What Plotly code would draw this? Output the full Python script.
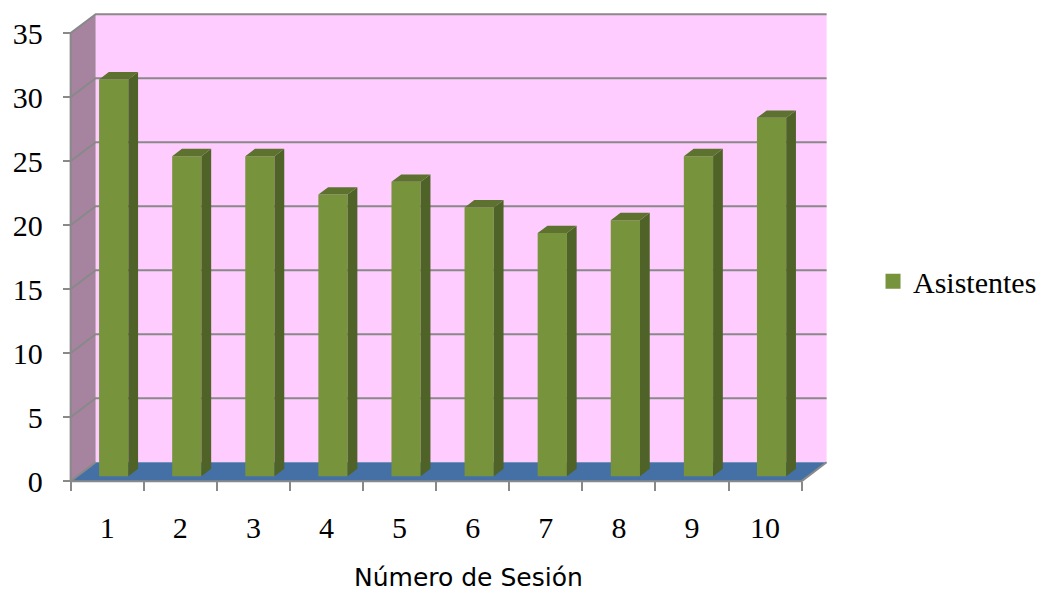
import plotly.graph_objects as go

# ---- data ----
sessions = [1, 2, 3, 4, 5, 6, 7, 8, 9, 10]
asistentes = [31, 25, 25, 22, 23, 21, 19, 20, 25, 28]
x_tick_labels = ["1", "2", "3", "4", "5", "6", "7", "8", "9", "10"]
y_tick_values = [0, 5, 10, 15, 20, 25, 30, 35]
series_name = "Asistentes"
x_title = "Número de Sesión"

# ---- styling / pseudo-3D geometry ----
W, H = 1041, 592
YMAX = 35
DX, DY = 0.342, 1.48          # depth offset (data units)
BAR_F, BAR_G = 0.26, 0.39     # bar plane position / bar depth as fraction of depth
BAR_W = 0.40
XL, XR = 0.5, 10.5            # front category edges
PXX, PXY = 73.1, 12.8         # px per unit
X0PX, Y0PX = 71, 481          # pixel of (0.5, 0)
XRANGE = [0.45, XR + DX + 0.06]
YRANGE = [-0.3, YMAX + DY + 0.25]

left = X0PX - (XL - XRANGE[0]) * PXX
right_px = X0PX + (XRANGE[1] - XL) * PXX
bottom_px = Y0PX + (0 - YRANGE[0]) * PXY
top_px = Y0PX - (YRANGE[1] - 0) * PXY

FRONT = "#77933C"
SIDE = "#4F6228"
TOP = "#5C722E"
GRID = "#898989"
PINK = "#FFCCFF"
MAUVE = "#A6849F"
FLOOR = "#4470A6"
SERIF = "Liberation Serif, Times New Roman, serif"

fig = go.Figure()

bx, by = BAR_F * DX, BAR_F * DY
ddx, ddy = BAR_G * DX, BAR_G * DY

fig.add_trace(go.Bar(
    x=[s + bx for s in sessions], y=asistentes, base=by, width=BAR_W,
    marker=dict(color=FRONT, line=dict(width=0)), name=series_name,
    showlegend=False, hoverinfo="skip"))

for s, v in zip(sessions, asistentes):
    xl = s + bx - BAR_W / 2
    xr = s + bx + BAR_W / 2
    yb, yt = by, by + v
    fig.add_trace(go.Scatter(
        x=[xr, xr + ddx, xr + ddx, xr, xr], y=[yb, yb + ddy, yt + ddy, yt, yb],
        fill="toself", fillcolor=SIDE, mode="lines", line=dict(width=0),
        showlegend=False, hoverinfo="skip"))
    fig.add_trace(go.Scatter(
        x=[xl, xr, xr + ddx, xl + ddx, xl], y=[yt, yt, yt + ddy, yt + ddy, yt],
        fill="toself", fillcolor=TOP, mode="lines", line=dict(width=0),
        showlegend=False, hoverinfo="skip"))

# legend entry (square swatch)
fig.add_trace(go.Scatter(
    x=[None], y=[None], mode="markers", name=series_name,
    marker=dict(symbol="square", size=15, color=FRONT), showlegend=True))

shapes = []
shapes.append(dict(type="rect", xref="x", yref="y", x0=XL + DX, x1=XR + DX, y0=DY, y1=YMAX + DY,
                   fillcolor=PINK, line=dict(width=0), layer="below"))
shapes.append(dict(type="path", xref="x", yref="y",
                   path=f"M {XL} 0 L {XL} {YMAX} L {XL+DX} {YMAX+DY} L {XL+DX} {DY} Z",
                   fillcolor=MAUVE, line=dict(width=0), layer="below"))
shapes.append(dict(type="path", xref="x", yref="y",
                   path=f"M {XL} 0 L {XR} 0 L {XR+DX} {DY} L {XL+DX} {DY} Z",
                   fillcolor=FLOOR, line=dict(width=0), layer="below"))
for k in y_tick_values:
    if k == 0:
        p = f"M {XL} 0 L {XL+DX} {DY}"
    else:
        p = f"M {XL} {k} L {XL+DX} {k+DY} L {XR+DX} {k+DY}"
    shapes.append(dict(type="path", xref="x", yref="y", path=p,
                       line=dict(color=GRID, width=2), layer="below"))
shapes.append(dict(type="path", xref="x", yref="y", path=f"M {XL} 0 L {XL} {YMAX}",
                   line=dict(color=GRID, width=2), layer="below"))
shapes.append(dict(type="path", xref="x", yref="y",
                   path=f"M {XL} 0 L {XR} 0 L {XR+DX} {DY}",
                   line=dict(color=GRID, width=2), layer="below"))

fig.update_layout(
    width=W, height=H,
    margin=dict(l=left, r=W - right_px, t=top_px, b=H - bottom_px, pad=0, autoexpand=False),
    paper_bgcolor="white", plot_bgcolor="rgba(0,0,0,0)",
    shapes=shapes,
    showlegend=True,
    legend=dict(x=1.055, y=0.43, xanchor="left", yanchor="middle",
                font=dict(family=SERIF, size=30, color="black"),
                bgcolor="rgba(0,0,0,0)", itemsizing="trace"),
    xaxis=dict(range=XRANGE, showgrid=False, zeroline=False, showline=False, automargin=False,
               anchor="free", position=(0 - YRANGE[0]) / (YRANGE[1] - YRANGE[0]),
               tickmode="array", tickvals=sessions, ticktext=x_tick_labels,
               ticks="", ticklabelstandoff=26,
               tickfont=dict(family=SERIF, size=30, color="black"),
               minor=dict(tickmode="linear", tick0=0.5, dtick=1, ticks="outside",
                          ticklen=9, tickwidth=2, tickcolor=GRID, showgrid=False)),
    yaxis=dict(range=YRANGE, showgrid=False, zeroline=False, showline=False, automargin=False,
               anchor="free", position=(XL - XRANGE[0]) / (XRANGE[1] - XRANGE[0]),
               tickmode="array", tickvals=y_tick_values,
               ticks="outside", ticklen=8, tickwidth=2, tickcolor=GRID,
               ticklabelstandoff=14,
               tickfont=dict(family=SERIF, size=30, color="black")),
    annotations=[dict(text=x_title, xref="paper", yref="paper",
                      x=(469 - left) / (right_px - left),
                      y=(bottom_px - 577) / (bottom_px - top_px),
                      xanchor="center", yanchor="middle", showarrow=False,
                      font=dict(family="DejaVu Sans, sans-serif", size=25, color="black"))],
)

fig.write_html("out.html", config={"displayModeBar": False},
               post_script="document.body.style.margin='0px';")
